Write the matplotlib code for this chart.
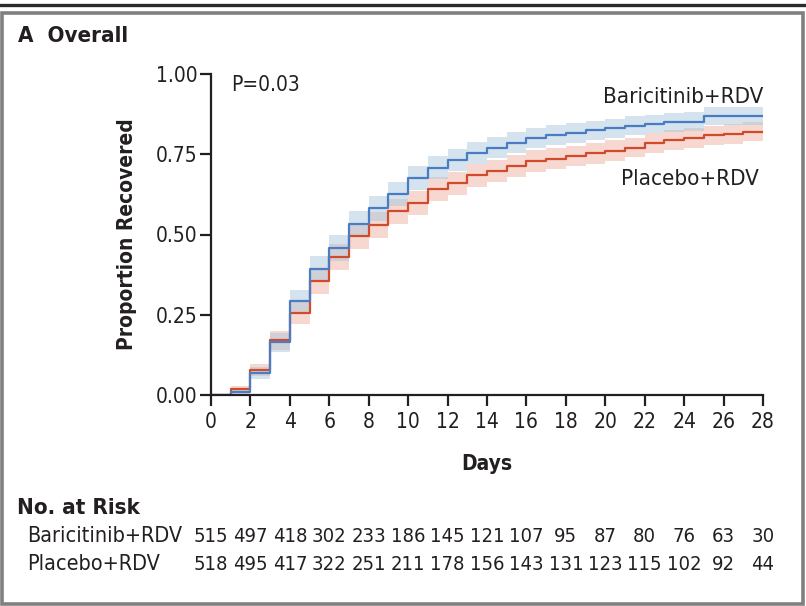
import numpy as np
import matplotlib
matplotlib.use("Agg")
import matplotlib.pyplot as plt
from matplotlib.patches import Rectangle
from matplotlib.lines import Line2D
import matplotlib.transforms as mtransforms

plt.rcParams['font.family'] = ['DejaVu Sans']
plt.rcParams['font.stretch'] = 'condensed'

INK = '#231f20'
BLUE = '#4a7cc3'
RED = '#d24a2c'

# proportion recovered on each day interval [d, d+1), d = 0..27
days = np.arange(0, 29)
bari = [0.000, 0.010, 0.068, 0.164, 0.292, 0.394, 0.458, 0.533, 0.581, 0.627,
        0.677, 0.708, 0.732, 0.755, 0.771, 0.786, 0.802, 0.809, 0.816, 0.825,
        0.831, 0.839, 0.844, 0.849, 0.852, 0.868, 0.868, 0.870]
plac = [0.000, 0.018, 0.078, 0.170, 0.257, 0.354, 0.429, 0.495, 0.529, 0.573,
        0.599, 0.641, 0.659, 0.684, 0.698, 0.714, 0.729, 0.736, 0.745, 0.753,
        0.761, 0.771, 0.784, 0.794, 0.802, 0.809, 0.813, 0.820]
# half-width of the 95% band on each interval
bari_hw = [0.000, 0.008, 0.018, 0.030, 0.035, 0.039, 0.040, 0.040, 0.039, 0.038,
           0.037, 0.036, 0.035, 0.034, 0.033, 0.032, 0.031, 0.031, 0.030, 0.030,
           0.030, 0.029, 0.029, 0.029, 0.029, 0.028, 0.028, 0.028]
plac_hw = [0.000, 0.009, 0.020, 0.030, 0.036, 0.039, 0.040, 0.040, 0.040, 0.039,
           0.038, 0.037, 0.036, 0.035, 0.034, 0.034, 0.033, 0.033, 0.032, 0.032,
           0.032, 0.031, 0.031, 0.031, 0.031, 0.030, 0.030, 0.030]

risk_days = list(range(0, 29, 2))
risk_bari = [515, 497, 418, 302, 233, 186, 145, 121, 107, 95, 87, 80, 76, 63, 30]
risk_plac = [518, 495, 417, 322, 251, 211, 178, 156, 143, 131, 123, 115, 102, 92, 44]

yticks = [0.0, 0.25, 0.5, 0.75, 1.0]
xticks = list(range(0, 29, 2))

fig = plt.figure(figsize=(8.06, 6.06), dpi=100)
W, H = 806.0, 606.0

# outer frame and top rule
fig.add_artist(Rectangle((1.5 / W, 2.5 / H), 801 / W, 590.5 / H,
                         transform=fig.transFigure, fill=False,
                         edgecolor='#808080', linewidth=2.6))
fig.add_artist(Line2D([0, 1], [1 - 4.5 / H, 1 - 4.5 / H],
                      transform=fig.transFigure, color='#2a2a2a', linewidth=2.4))

ax = fig.add_axes([211 / W, 1 - 395 / H, 552 / W, 321 / H])


def ext(v):
    return list(v) + [v[-1]]


for vals, hw, col, band in [(plac, plac_hw, RED, '#eeb2a3'),
                            (bari, bari_hw, BLUE, '#aac8df')]:
    v = np.array(ext(vals))
    h = np.array(ext(hw))
    ax.fill_between(days, v - h, v + h, step='post', color=band,
                    alpha=0.5, linewidth=0)
    ax.step(days, v, where='post', color=col, linewidth=1.6)

ax.set_xlim(0, 28)
ax.set_ylim(0, 1.0)
ax.set_xticks(xticks)
ax.set_yticks(yticks)
ax.set_yticklabels(['%.2f' % t for t in yticks])
for s in ['top', 'right']:
    ax.spines[s].set_visible(False)
for s in ['left', 'bottom']:
    ax.spines[s].set_linewidth(1.6)
    ax.spines[s].set_color(INK)
ax.tick_params(axis='both', direction='out', length=8, width=1.6,
               color=INK, labelcolor=INK, labelsize=15)
ax.tick_params(axis='y', pad=1.5)
ax.tick_params(axis='x', pad=4)

ax.set_ylabel('Proportion Recovered', fontsize=15, fontweight='bold',
              color=INK, labelpad=14)
ax.set_xlabel('Days', fontsize=15, fontweight='bold', color=INK, labelpad=16)

ax.text(1.0, 0.965, 'P=0.03', fontsize=15, color=INK, va='center', ha='left')
ax.text(28, 0.928, 'Baricitinib+RDV', fontsize=16, color=INK,
        va='center', ha='right')
ax.text(27.8, 0.673, 'Placebo+RDV', fontsize=16, color=INK,
        va='center', ha='right')

fig.text(18 / W, 1 - 36 / H, 'A  Overall', fontsize=16, fontweight='bold',
         color=INK, va='center', ha='left')

# number at risk table
fig.text(17 / W, 1 - 508 / H, 'No. at Risk', fontsize=16, fontweight='bold',
         color=INK, va='center', ha='left')
trans = mtransforms.blended_transform_factory(ax.transData, fig.transFigure)
for y, name, counts in [(536, 'Baricitinib+RDV', risk_bari),
                        (564, 'Placebo+RDV', risk_plac)]:
    fig.text(27 / W, 1 - y / H, name, fontsize=15.5, color=INK,
             va='center', ha='left')
    for d, n in zip(risk_days, counts):
        ax.text(d, 1 - y / H, str(n), transform=trans, fontsize=14.5,
                color=INK, va='center', ha='center')

fig.savefig('out.png', dpi=100)
